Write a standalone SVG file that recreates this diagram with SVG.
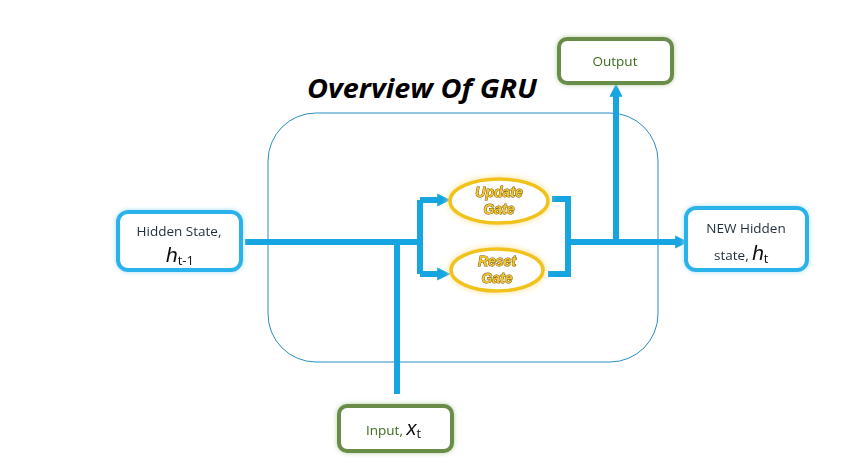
<svg xmlns="http://www.w3.org/2000/svg" width="842" height="470" viewBox="0 0 842 470">
<style>
.conn{stroke:#16a5e1;stroke-width:6;fill:none}
.bluebox{fill:#fff;stroke:#2bb2ea;stroke-width:4}
.greenbox{fill:#fff;stroke:#6a8c4a;stroke-width:4}
.t{font-family:"Open Sans","Liberation Sans",Arial,sans-serif;font-size:13.5px;fill:#1f2f3a;text-anchor:middle}
.g{font-family:"Open Sans","Liberation Sans",Arial,sans-serif;font-size:13.5px;fill:#3d6a1e;text-anchor:middle}
.h{font-family:"Liberation Sans",Arial,sans-serif;font-style:italic;font-size:21px;fill:#111}
.sub{font-family:"Open Sans","Liberation Sans",Arial,sans-serif;font-size:13px;fill:#111}
.gate{fill:#fff;stroke:#f2c21c;stroke-width:3.5}
.gt{font-family:"Liberation Sans",Arial,sans-serif;font-weight:bold;font-style:italic;font-size:14px;fill:#f4c430;stroke:#6e5200;stroke-width:0.9;text-anchor:middle;paint-order:stroke}
</style>
<defs>
<filter id="glowB" x="-20%" y="-30%" width="140%" height="160%"><feGaussianBlur in="SourceAlpha" stdDeviation="2.5" result="b"/><feFlood flood-color="#a8def5"/><feComposite in2="b" operator="in"/><feMerge><feMergeNode/><feMergeNode in="SourceGraphic"/></feMerge></filter>
<filter id="glowG" x="-20%" y="-30%" width="140%" height="160%"><feGaussianBlur in="SourceAlpha" stdDeviation="2.5" result="b"/><feFlood flood-color="#b9cfa4"/><feComposite in2="b" operator="in"/><feMerge><feMergeNode/><feMergeNode in="SourceGraphic"/></feMerge></filter>
<filter id="glowY" x="-20%" y="-30%" width="140%" height="160%"><feGaussianBlur in="SourceAlpha" stdDeviation="3" result="b"/><feFlood flood-color="#fbe38a"/><feComposite in2="b" operator="in"/><feMerge><feMergeNode/><feMergeNode in="SourceGraphic"/></feMerge></filter>
<marker id="arr" markerWidth="2.2" markerHeight="2.2" refX="0.8" refY="1.1" orient="auto" markerUnits="strokeWidth"><path d="M0,0 L2.2,1.1 L0,2.2 z" fill="#16a5e1"/></marker>
</defs>
<rect width="842" height="470" fill="#fff"/>
<text x="422" y="98" font-family="Open Sans,Liberation Sans,Arial,sans-serif" font-weight="bold" font-style="italic" font-size="27" text-anchor="middle" textLength="230" lengthAdjust="spacingAndGlyphs" fill="#000">Overview Of GRU</text>
<rect id="container" x="268" y="113" width="390" height="249" rx="48" fill="none" stroke="#2a8cc0" stroke-width="1"/>
<g id="connectors">
<path class="conn" d="M245,242 H420"/>
<path class="conn" d="M397,242 V394"/>
<path class="conn" d="M420,200 V274"/>
<path class="conn" d="M420,200 H442" marker-end="url(#arr)"/>
<path class="conn" d="M420,274 H442" marker-end="url(#arr)"/>
<path class="conn" d="M552,199 H568 V274 H548"/>
<path class="conn" d="M568,242 H680" marker-end="url(#arr)"/>
<path class="conn" d="M616,242 V92" marker-end="url(#arr)"/>
</g>
<g id="hidden-state" filter="url(#glowB)">
<rect class="bluebox" x="118" y="212" width="123" height="58" rx="10"/>
<text class="t" x="179" y="236">Hidden State,</text>
<text x="166" y="262"><tspan class="h">h</tspan><tspan class="sub" dy="3">t-1</tspan></text>
</g>
<g id="new-hidden" filter="url(#glowB)">
<rect class="bluebox" x="686" y="208" width="121" height="62" rx="10"/>
<text class="t" x="746" y="233">NEW Hidden</text>
<text x="714" y="260"><tspan class="t" style="text-anchor:start">state, </tspan><tspan class="h">h</tspan><tspan class="sub" dy="3">t</tspan></text>
</g>
<g id="update-gate" filter="url(#glowY)">
<ellipse class="gate" cx="499" cy="201" rx="49" ry="22"/>
<text class="gt" x="499" y="197">Update</text>
<text class="gt" x="499" y="214">Gate</text>
</g>
<g id="reset-gate" filter="url(#glowY)">
<ellipse class="gate" cx="497" cy="270" rx="46" ry="21"/>
<text class="gt" x="497" y="266">Reset</text>
<text class="gt" x="497" y="283">Gate</text>
</g>
<g id="output" filter="url(#glowG)">
<rect class="greenbox" x="559" y="39" width="113" height="44" rx="8"/>
<text class="g" x="615" y="66">Output</text>
</g>
<g id="input" filter="url(#glowG)">
<rect class="greenbox" x="339" y="406" width="113" height="45" rx="8"/>
<text x="366" y="435"><tspan class="g" style="text-anchor:start">Input, </tspan><tspan class="h" style="font-size:20px">x</tspan><tspan class="sub" dy="3">t</tspan></text>
</g>
</svg>
